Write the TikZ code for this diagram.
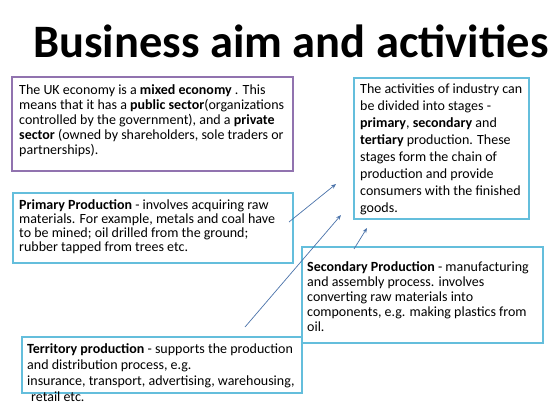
\documentclass[tikz,border=0pt]{standalone}
\usepackage{fontspec}
\setmainfont{Carlito}
\definecolor{boxpurple}{RGB}{145,115,175}
\definecolor{boxcyan}{RGB}{100,190,220}
\definecolor{arrowblue}{RGB}{75,115,170}
\tikzset{
  purplebox/.style={draw=boxpurple,line width=1.2pt},
  cyanbox/.style={draw=boxcyan,line width=1.2pt},
  txt/.style={anchor=base west,inner sep=0pt},
  link/.style={draw=arrowblue,line width=0.7pt,-{Stealth[length=5pt,width=4pt]}},
}
\usetikzlibrary{arrows.meta}
\begin{document}
\begin{tikzpicture}[x=1pt,y=-1pt]
\useasboundingbox (0,0) rectangle (560,420);
\node[anchor=base west,inner sep=0pt,font=\fontsize{46.5}{52}\bfseries\selectfont] (title) at (33,58) {Business aim and activities};
% boxes
\draw[purplebox] (12,77) rectangle (293,171);
\draw[cyanbox] (354,78) rectangle (529,219);
\draw[cyanbox] (13,193) rectangle (293,263);
\draw[cyanbox] (302,247) rectangle (543,343);
\draw[cyanbox] (22,337) rectangle (302,393);
% texts
\node[txt] (mixed) at (19,95) {\parbox[t]{275pt}{\fontsize{14}{15}\selectfont The UK economy is a \textbf{mixed economy} . This\\
means that it has a \textbf{public sector}(organizations\\
controlled by the government), and a \textbf{private}\\
\textbf{sector} (owned by shareholders, sole traders or\\
partnerships).}};
\node[txt] (stages) at (360,94) {\parbox[t]{170pt}{\fontsize{14}{16.9}\selectfont The activities of industry can\\
be divided into stages -\\
\textbf{primary}, \textbf{secondary} and\\
\textbf{tertiary} production. These\\
stages form the chain of\\
production and provide\\
consumers with the finished\\
goods.}};
\node[txt] (primary) at (19,209) {\parbox[t]{275pt}{\fontsize{14}{14}\selectfont \textbf{Primary Production} - involves acquiring raw\\
materials. For example, metals and coal have\\
to be mined; oil drilled from the ground;\\
rubber tapped from trees etc.}};
\node[txt] (secondary) at (307,271) {\parbox[t]{240pt}{\fontsize{14}{15}\selectfont \textbf{Secondary Production} - manufacturing\\
and assembly process. involves\\
converting raw materials into\\
components, e.g. making plastics from\\
oil.}};
\node[txt] (tertiary) at (27,353) {\parbox[t]{280pt}{\fontsize{14}{16.3}\selectfont \textbf{Territory production} - supports the production\\
and distribution process, e.g.\\
insurance, transport, advertising, warehousing,\\
\hspace*{4pt}retail etc.}};
% arrows
\coordinate (a1s) at (289,222); \coordinate (a1e) at (336,184);
\coordinate (a2s) at (245,327); \coordinate (a2e) at (341,215);
\coordinate (a3s) at (354,249); \coordinate (a3e) at (367,228);
\draw[link] (a1s) -- (a1e);
\draw[link] (a2s) -- (a2e);
\draw[link] (a3s) -- (a3e);
\end{tikzpicture}
\end{document}
